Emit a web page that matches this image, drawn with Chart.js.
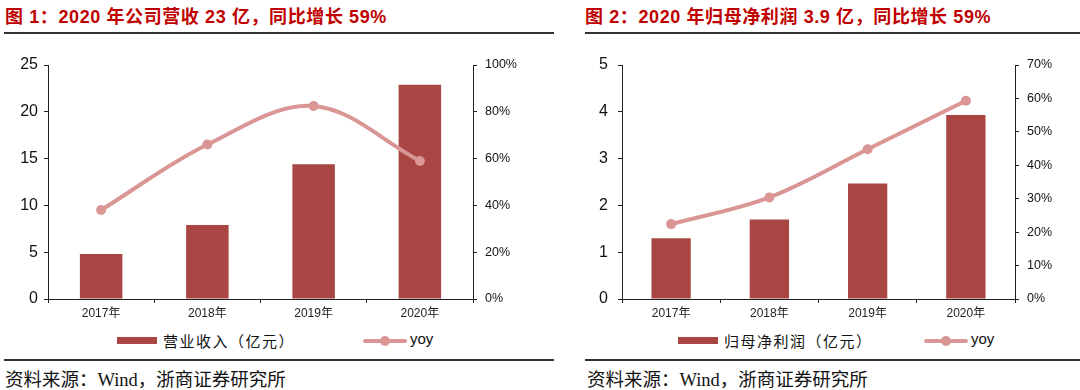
<!DOCTYPE html>
<html>
<head>
<meta charset="utf-8">
<script src="https://cdn.jsdelivr.net/npm/chart.js@4/dist/chart.umd.min.js"></script>
<style>
  body { margin: 0; width: 1080px; height: 390px; background: #fff; position: relative; overflow: hidden; }
  .title { position: absolute; top: 2px; font: bold 18px "Liberation Sans", "Noto Sans CJK SC", sans-serif; color: #c00000; white-space: nowrap; letter-spacing: 0.6px; }
  .rule { position: absolute; height: 0; border-top: 2px solid #333; }
  .src { position: absolute; top: 365px; font: 18.5px "Liberation Serif", "Noto Sans CJK SC", serif; color: #111; white-space: nowrap; }
  canvas { position: absolute; }
  .leg { position: absolute; font: 15px "Noto Sans CJK SC", sans-serif; color: #111; white-space: nowrap; letter-spacing: 1.5px; }
  .sw { position: absolute; }
</style>
</head>
<body>
<div class="title" style="left:5px">图 1：2020 年公司营收 23 亿，同比增长 59%</div>
<div class="title" style="left:585px">图 2：2020 年归母净利润 3.9 亿，同比增长 59%</div>
<div class="rule" style="left:4px;width:550px;top:32px"></div>
<div class="rule" style="left:585px;width:495px;top:32px"></div>
<div class="rule" style="left:4px;width:550px;top:359px"></div>
<div class="rule" style="left:585px;width:495px;top:359px"></div>
<div class="src" style="left:5px">资料来源：Wind，浙商证券研究所</div>
<div class="src" style="left:587px">资料来源：Wind，浙商证券研究所</div>

<canvas id="c1" width="540" height="275" style="left:0;top:50px"></canvas>
<canvas id="c2" width="540" height="275" style="left:540px;top:50px"></canvas>
<div id="leg1"></div>
<div id="leg2"></div>

<script>
// data
const years = ['2017年', '2018年', '2019年', '2020年'];
const revenue = [4.8, 7.9, 14.4, 22.9];      // 营业收入（亿元）
const revenueYoy = [38, 66, 82.5, 59];        // %
const profit = [1.3, 1.7, 2.47, 3.93];        // 归母净利润（亿元）
const profitYoy = [22.4, 30.4, 44.8, 59.3];   // %

const barColor = '#a94543';
const lineColor = '#d99694';

function makeChart(id, barLabel, bars, yoy, leftMax, leftStep, rightMax, rightStep, leftW, rightW, leftPad) {
  return new Chart(document.getElementById(id), {
    data: {
      labels: years,
      datasets: [
        {
          type: 'line', label: 'yoy', data: yoy, yAxisID: 'y1',
          borderColor: lineColor, backgroundColor: lineColor, borderWidth: 4,
          pointRadius: 5, pointBackgroundColor: lineColor, pointBorderWidth: 0,
          tension: 0.35, order: 0
        },
        {
          type: 'bar', label: barLabel, data: bars, yAxisID: 'y',
          backgroundColor: barColor, barPercentage: 0.4, categoryPercentage: 1, order: 1
        }
      ]
    },
    options: {
      responsive: false,
      devicePixelRatio: 1,
      animation: false,
      layout: { padding: { top: 15, bottom: 0, left: 0, right: 0 } },
      plugins: { legend: { display: false }, tooltip: { enabled: false } },
      scales: {
        x: {
          offset: true,
          border: { color: '#222', width: 1 },
          grid: { drawOnChartArea: false, tickLength: 4, tickColor: '#222', offset: true },
          ticks: { color: '#222', font: { size: 12, family: 'Liberation Sans, Noto Sans CJK SC' }, padding: 3 },
          afterFit: s => { s.height = 26; }
        },
        y: {
          position: 'left', min: 0, max: leftMax,
          border: { color: '#222', width: 1 },
          grid: { drawOnChartArea: false, tickLength: 4, tickColor: '#222' },
          ticks: { stepSize: leftStep, color: '#111', font: { size: 16, family: 'Liberation Sans' }, padding: leftPad },
          afterFit: s => { s.width = leftW; s.paddingTop = 0; s.paddingBottom = 0; }
        },
        y1: {
          position: 'right', min: 0, max: rightMax,
          border: { color: '#222', width: 1 },
          grid: { drawOnChartArea: false, tickLength: 4, tickColor: '#222' },
          ticks: { stepSize: rightStep, color: '#111', font: { size: 12.5, family: 'Liberation Sans' }, padding: 8,
                   callback: v => v + '%' },
          afterFit: s => { s.width = rightW; s.paddingTop = 0; s.paddingBottom = 0; }
        }
      }
    }
  });
}

function legend(divId, barLabel, barX, yoyX) {
  const d = document.getElementById(divId);
  d.innerHTML =
    `<div class="sw" style="left:${barX}px;top:337px;width:40px;height:7px;background:${barColor}"></div>` +
    `<div class="leg" style="left:${barX + 46}px;top:330px">${barLabel}</div>` +
    `<div class="sw" style="left:${yoyX}px;top:339px;width:44px;height:4px;border-radius:2px;background:${lineColor}"></div>` +
    `<div class="sw" style="left:${yoyX + 17}px;top:336px;width:10px;height:10px;border-radius:5px;background:${lineColor}"></div>` +
    `<div class="leg" style="left:${yoyX + 47}px;top:330px;font-family:Liberation Sans;letter-spacing:0">yoy</div>`;
}

makeChart('c1', '营业收入（亿元）', revenue, revenueYoy, 25, 5, 100, 20, 48, 67, 6);
makeChart('c2', '归母净利润（亿元）', profit, profitYoy, 5, 1, 70, 10, 82, 65, 10);
legend('leg1', '营业收入（亿元）', 117, 363);
legend('leg2', '归母净利润（亿元）', 678, 924);
</script>
</body>
</html>
